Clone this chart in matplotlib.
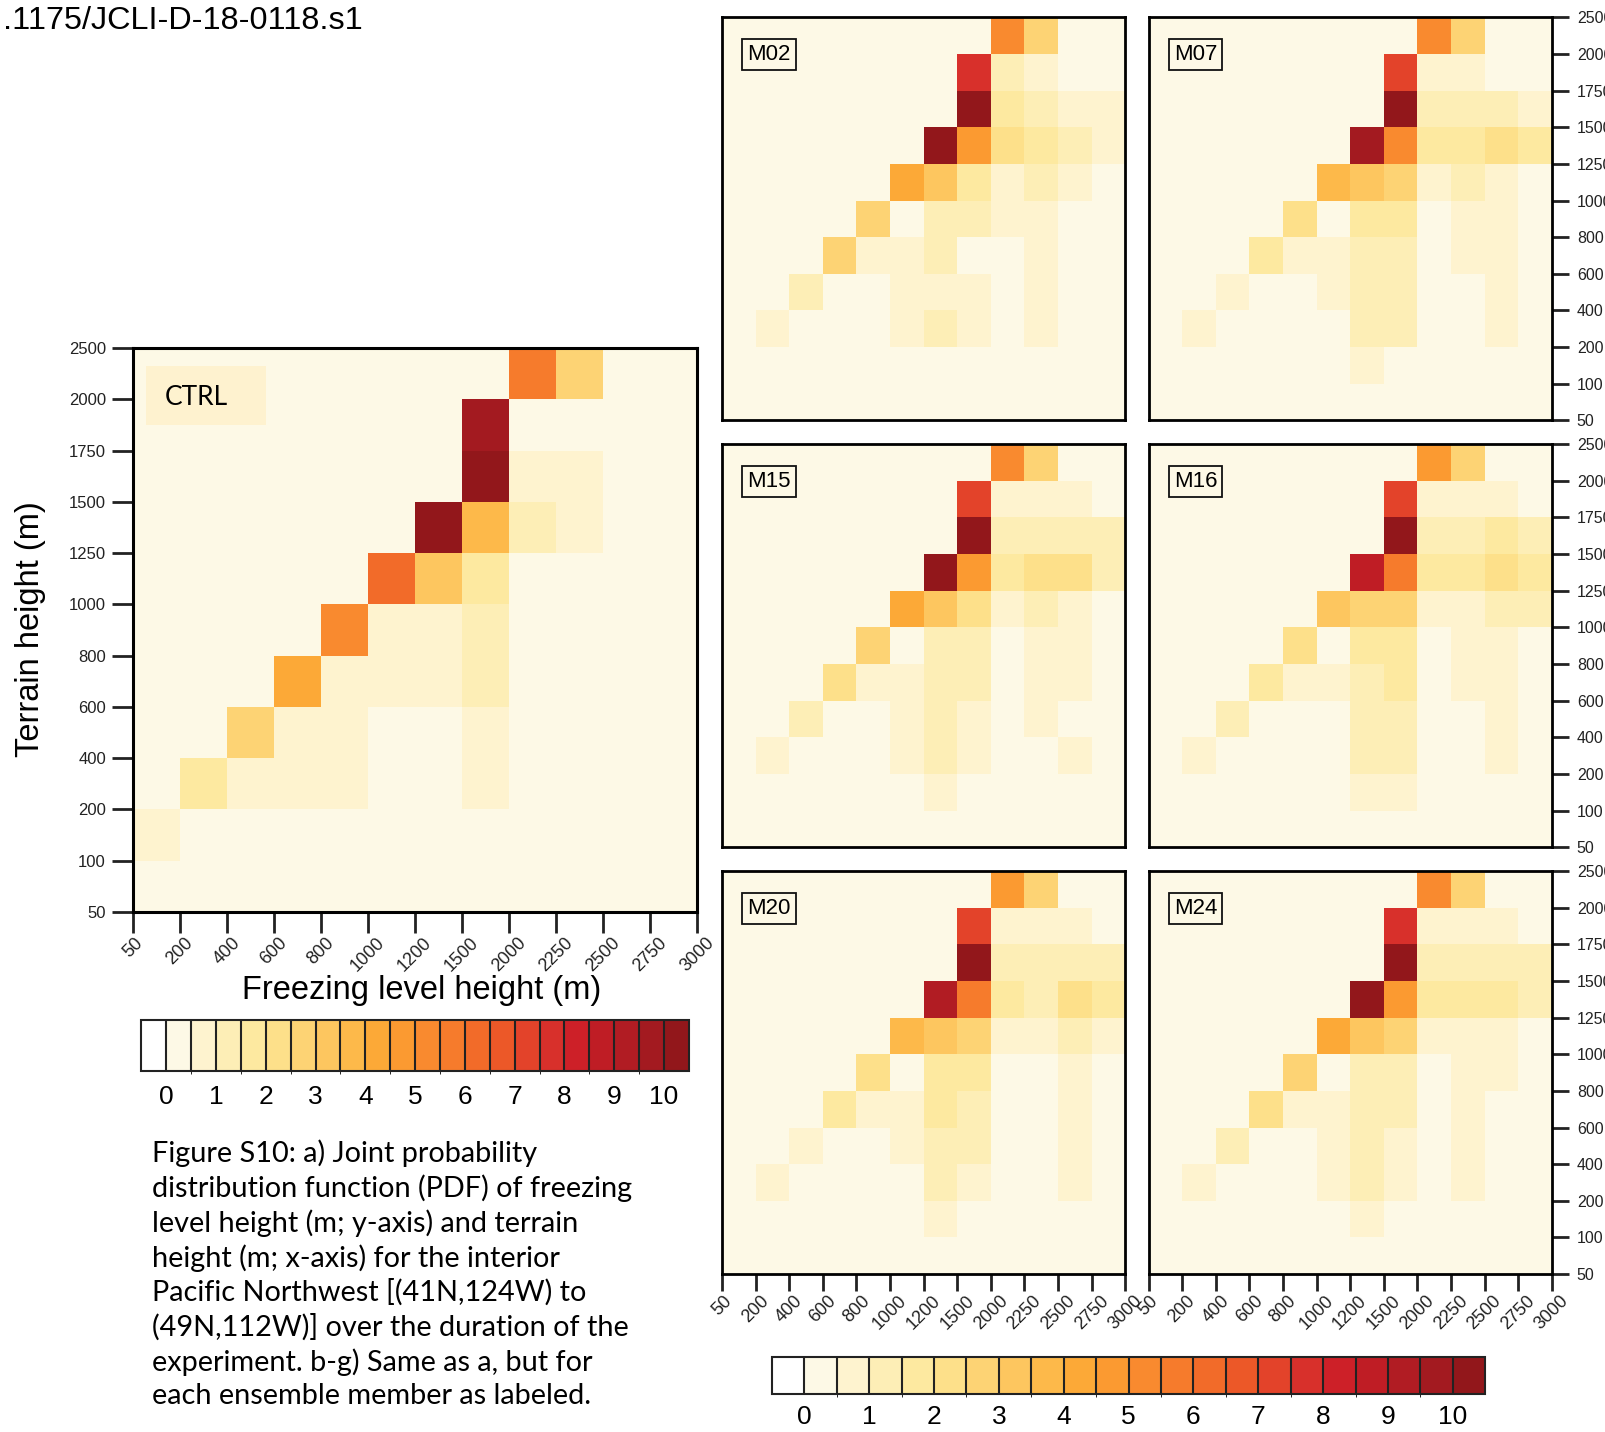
import numpy as np
import matplotlib
matplotlib.use('Agg')
import matplotlib.pyplot as plt
from matplotlib.colors import ListedColormap, BoundaryNorm
from matplotlib.patches import Rectangle

# ---------------- data ----------------
x_edges = ['50', '200', '400', '600', '800', '1000', '1200', '1500',
           '2000', '2250', '2500', '2750', '3000']
y_edges = ['50', '100', '200', '400', '600', '800', '1000', '1250',
           '1500', '1750', '2000', '2500']
levels = np.arange(0, 10.01, 0.5)
cbar_labels = [str(i) for i in range(11)]
colors = ['#ffffff', '#fdf9e6', '#fef3cf', '#fdeeb6', '#fde9a0', '#fde08a',
          '#fdd374', '#fdc65f', '#fdb94a', '#fca937', '#fb9a31', '#f98a2f',
          '#f67b2c', '#f26b29', '#ec5828', '#e3432a', '#d8302b', '#cd2028',
          '#bf1d25', '#b11c23', '#a31a20', '#92171b']

# rows listed from top (2000-2500 m) to bottom (50-100 m)
ctrl = [
    [.2, .2, .2, .2, .2, .2, .2, .2, 5.75, 2.75, .2, .2],
    [.2, .2, .2, .2, .2, .2, .2, 9.75, .2, .2, .2, .2],
    [.2, .2, .2, .2, .2, .2, .2, 10.5, .75, .75, .2, .2],
    [.2, .2, .2, .2, .2, .2, 10.5, 3.9, 1.1, .75, .2, .2],
    [.2, .2, .2, .2, .2, 6.25, 3.25, 1.75, .2, .2, .2, .2],
    [.2, .2, .2, .2, 5.25, .75, .75, 1.1, .2, .2, .2, .2],
    [.2, .2, .2, 4.25, .75, .75, .75, 1.1, .2, .2, .2, .2],
    [.2, .2, 2.75, .75, .75, .2, .2, .75, .2, .2, .2, .2],
    [.2, 1.6, .75, .75, .75, .2, .2, .75, .2, .2, .2, .2],
    [.75, .2, .2, .2, .2, .2, .2, .2, .2, .2, .2, .2],
    [.2, .2, .2, .2, .2, .2, .2, .2, .2, .2, .2, .2],
]
m02 = [
    [.2, .2, .2, .2, .2, .2, .2, .2, 5.25, 2.75, .2, .2],
    [.2, .2, .2, .2, .2, .2, .2, 7.75, 1.25, .75, .2, .2],
    [.2, .2, .2, .2, .2, .2, .2, 10.5, 1.6, 1.25, .75, .75],
    [.2, .2, .2, .2, .2, .2, 10.5, 4.75, 2.25, 1.75, 1.1, .75],
    [.2, .2, .2, .2, .2, 4.25, 3.25, 1.75, .75, 1.25, .75, .2],
    [.2, .2, .2, .2, 2.75, .2, 1.1, 1.1, .75, .75, .2, .2],
    [.2, .2, .2, 2.75, .75, .75, 1.1, .2, .2, .75, .2, .2],
    [.2, .2, 1.1, .2, .2, .75, .75, .75, .2, .75, .2, .2],
    [.2, .75, .2, .2, .2, .75, 1.1, .75, .2, .75, .2, .2],
    [.2, .2, .2, .2, .2, .2, .2, .2, .2, .2, .2, .2],
    [.2, .2, .2, .2, .2, .2, .2, .2, .2, .2, .2, .2],
]
m07 = [
    [.2, .2, .2, .2, .2, .2, .2, .2, 5.25, 2.75, .2, .2],
    [.2, .2, .2, .2, .2, .2, .2, 7.25, .75, .75, .2, .2],
    [.2, .2, .2, .2, .2, .2, .2, 10.5, 1.25, 1.25, 1.25, .9],
    [.2, .2, .2, .2, .2, .2, 9.75, 5.25, 1.6, 1.6, 2.25, 1.6],
    [.2, .2, .2, .2, .2, 3.75, 3.25, 2.6, .75, 1.25, .75, .2],
    [.2, .2, .2, .2, 2.25, .2, 1.6, 1.6, .2, .75, .75, .2],
    [.2, .2, .2, 1.6, .75, .75, 1.25, 1.25, .2, .75, .75, .2],
    [.2, .2, .75, .2, .2, .75, 1.25, 1.25, .2, .2, .75, .2],
    [.2, .75, .2, .2, .2, .2, 1.1, 1.1, .2, .2, .75, .2],
    [.2, .2, .2, .2, .2, .2, .75, .2, .2, .2, .2, .2],
    [.2, .2, .2, .2, .2, .2, .2, .2, .2, .2, .2, .2],
]
m15 = [
    [.2, .2, .2, .2, .2, .2, .2, .2, 5.25, 2.75, .2, .2],
    [.2, .2, .2, .2, .2, .2, .2, 7.25, .75, .75, .75, .2],
    [.2, .2, .2, .2, .2, .2, .2, 10.5, 1.25, 1.25, 1.25, 1.0],
    [.2, .2, .2, .2, .2, .2, 10.5, 4.75, 1.6, 2.25, 2.25, 1.0],
    [.2, .2, .2, .2, .2, 4.25, 3.25, 2.4, .75, 1.25, .75, .2],
    [.2, .2, .2, .2, 2.75, .2, 1.25, 1.25, .2, .75, .75, .2],
    [.2, .2, .2, 2.25, .75, .75, 1.25, 1.25, .2, .75, .75, .2],
    [.2, .2, 1.25, .2, .2, .75, 1.25, .75, .2, .75, .2, .2],
    [.2, .75, .2, .2, .2, .75, 1.25, .75, .2, .2, .75, .2],
    [.2, .2, .2, .2, .2, .2, .75, .2, .2, .2, .2, .2],
    [.2, .2, .2, .2, .2, .2, .2, .2, .2, .2, .2, .2],
]
m16 = [
    [.2, .2, .2, .2, .2, .2, .2, .2, 4.75, 2.75, .2, .2],
    [.2, .2, .2, .2, .2, .2, .2, 7.25, .75, .75, .75, .2],
    [.2, .2, .2, .2, .2, .2, .2, 10.5, 1.25, 1.25, 1.75, 1.0],
    [.2, .2, .2, .2, .2, .2, 8.6, 5.75, 1.75, 1.75, 2.25, 1.6],
    [.2, .2, .2, .2, .2, 3.25, 2.75, 2.75, .75, .75, 1.25, 1.0],
    [.2, .2, .2, .2, 2.25, .2, 1.6, 1.6, .2, .75, .75, .2],
    [.2, .2, .2, 1.6, .75, .75, 1.25, 1.6, .2, .75, .75, .2],
    [.2, .2, 1.0, .2, .2, .2, 1.25, 1.25, .2, .2, .75, .2],
    [.2, .75, .2, .2, .2, .2, 1.25, 1.25, .2, .2, .75, .2],
    [.2, .2, .2, .2, .2, .2, .75, .75, .2, .2, .2, .2],
    [.2, .2, .2, .2, .2, .2, .2, .2, .2, .2, .2, .2],
]
m20 = [
    [.2, .2, .2, .2, .2, .2, .2, .2, 4.75, 2.75, .2, .2],
    [.2, .2, .2, .2, .2, .2, .2, 7.25, .75, .75, .75, .2],
    [.2, .2, .2, .2, .2, .2, .2, 10.5, 1.25, 1.25, 1.25, 1.0],
    [.2, .2, .2, .2, .2, .2, 9.1, 5.75, 1.6, 1.25, 2.25, 1.6],
    [.2, .2, .2, .2, .2, 3.75, 3.25, 2.9, .75, .75, 1.25, .75],
    [.2, .2, .2, .2, 2.45, .2, 1.75, 1.75, .2, .2, .75, .2],
    [.2, .2, .2, 1.75, .75, .75, 1.75, 1.25, .2, .2, .75, .2],
    [.2, .2, .75, .2, .2, .75, 1.25, 1.25, .2, .2, .75, .2],
    [.2, .75, .2, .2, .2, .2, 1.25, .75, .2, .2, .75, .2],
    [.2, .2, .2, .2, .2, .2, .75, .2, .2, .2, .2, .2],
    [.2, .2, .2, .2, .2, .2, .2, .2, .2, .2, .2, .2],
]
m24 = [
    [.2, .2, .2, .2, .2, .2, .2, .2, 5.25, 2.75, .2, .2],
    [.2, .2, .2, .2, .2, .2, .2, 7.75, .75, .75, .75, .2],
    [.2, .2, .2, .2, .2, .2, .2, 10.5, 1.25, 1.25, 1.25, 1.0],
    [.2, .2, .2, .2, .2, .2, 10.5, 4.75, 1.75, 1.75, 1.75, 1.25],
    [.2, .2, .2, .2, .2, 4.25, 3.25, 2.5, .75, .75, .75, .2],
    [.2, .2, .2, .2, 2.75, .2, 1.25, 1.25, .2, .75, .75, .2],
    [.2, .2, .2, 2.25, .75, .75, 1.25, 1.25, .2, .75, .2, .2],
    [.2, .2, 1.25, .2, .2, .75, 1.25, .75, .2, .75, .2, .2],
    [.2, .75, .2, .2, .2, .75, 1.25, .75, .2, .75, .2, .2],
    [.2, .2, .2, .2, .2, .2, .75, .2, .2, .2, .2, .2],
    [.2, .2, .2, .2, .2, .2, .2, .2, .2, .2, .2, .2],
]
member_names = ['M02', 'M07', 'M15', 'M16', 'M20', 'M24']
member_data = [m02, m07, m15, m16, m20, m24]

caption = [
    'Figure S10: a) Joint probability',
    'distribution function (PDF) of freezing',
    'level height (m; y-axis) and terrain',
    'height (m; x-axis) for the interior',
    'Pacific Northwest [(41N,124W) to',
    '(49N,112W)] over the duration of the',
    'experiment. b-g) Same as a, but for',
    'each ensemble member as labeled.',
]

# ---------------- style ----------------
SANS = ['Liberation Sans', 'DejaVu Sans']
plt.rcParams['font.family'] = SANS
W, H = 1605, 1432
fig = plt.figure(figsize=(W / 100, H / 100), dpi=100)

cmap = ListedColormap(colors[1:-1])
cmap.set_under(colors[0])
cmap.set_over(colors[-1])
norm = BoundaryNorm(levels, cmap.N)

xe = np.arange(len(x_edges))
ye = np.arange(len(y_edges))


def fr(x0, y0, x1, y1):
    return [x0 / W, 1 - y1 / H, (x1 - x0) / W, (y1 - y0) / H]


def draw(ax, data):
    ax.pcolormesh(xe, ye, np.flipud(np.array(data)), cmap=cmap, norm=norm,
                  shading='flat', antialiased=False)
    ax.set_xlim(0, len(x_edges) - 1)
    ax.set_ylim(0, len(y_edges) - 1)


# ---- CTRL panel ----
ax = fig.add_axes(fr(133, 348, 697, 912))
draw(ax, ctrl)
for s in ax.spines.values():
    s.set_linewidth(2.2)
ax.set_xticks(xe)
ax.set_xticklabels(x_edges, rotation=45, ha='center', va='top')
ax.set_yticks(ye)
ax.set_yticklabels(y_edges)
ax.tick_params(axis='both', direction='out', length=15, width=2,
               colors='#222222')
ax.tick_params(axis='x', pad=1, labelsize=13)
ax.tick_params(axis='y', pad=4.5, labelsize=12)
ax.add_patch(Rectangle((0.023, 0.8635), 0.213, 0.1045, transform=ax.transAxes,
                       facecolor='#fef2cf', edgecolor='none', zorder=3))
ax.text(0.0567, 0.913, 'CTRL', transform=ax.transAxes, ha='left', va='center',
        fontsize=19, family=['Lato', 'DejaVu Sans'], zorder=4)

fig.text(31 / W, 1 - 629 / H, 'Terrain height (m)', rotation=90,
         ha='center', va='center', fontsize=23.5)
fig.text(422 / W, 1 - 990 / H, 'Freezing level height (m)',
         ha='center', va='center', fontsize=23.5)

# ---- member panels ----
lefts = [722, 1148.5]
tops = [17.4, 444.2, 871.1]
size_w, size_h = 403.3, 403.0
for i, (name, data) in enumerate(zip(member_names, member_data)):
    r, c = divmod(i, 2)
    x0, y0 = lefts[c], tops[r]
    a = fig.add_axes(fr(x0, y0, x0 + size_w, y0 + size_h))
    draw(a, data)
    for s in a.spines.values():
        s.set_linewidth(2.0)
    if r == 2:
        a.set_xticks(xe)
        a.set_xticklabels(x_edges, rotation=45, ha='center', va='top')
        a.tick_params(axis='x', direction='out', length=12, width=2,
                      labelsize=13, pad=1, colors='#222222')
    else:
        a.set_xticks([])
    if c == 1:
        a.yaxis.tick_right()
        a.set_yticks(ye)
        a.set_yticklabels(y_edges)
        a.tick_params(axis='y', direction='out', length=12, width=2,
                      labelsize=11.5, pad=6, colors='#222222')
    else:
        a.set_yticks([])
    a.text(0.1166, 0.908, name, transform=a.transAxes, ha='center',
           va='center', fontsize=16, zorder=4,
           bbox=dict(boxstyle='square,pad=0.22', facecolor='none',
                     edgecolor='#111111', linewidth=1.3))


# ---- colorbars (cax spans the full bar incl. the end boxes) ----
def colorbar(rect, fs, pad):
    cax = fig.add_axes(rect)
    sm = matplotlib.cm.ScalarMappable(norm=norm, cmap=cmap)
    cb = fig.colorbar(sm, cax=cax, orientation='horizontal', extend='both',
                      extendrect=True, extendfrac='auto', drawedges=True,
                      ticks=range(11))
    cb.set_ticklabels(cbar_labels)
    cb.outline.set_linewidth(1.5)
    cb.outline.set_edgecolor('#222222')
    cb.dividers.set_linewidth(1.5)
    cb.dividers.set_color('#222222')
    cax.tick_params(length=0, labelsize=fs, pad=pad)
    return cb


colorbar(fr(141.3, 1020, 688.9, 1070.5), 19, 10.5)
colorbar(fr(771.8, 1357.3, 1485.3, 1394.2), 19, 8)

# ---- texts ----
fig.text(3 / W, 1 - 21 / H, '.1175/JCLI-D-18-0118.s1', ha='left',
         va='center', fontsize=23.3)
for k, line in enumerate(caption):
    fig.text(151.5 / W, 1 - (1153.6 + 34.7 * k) / H, line, ha='left',
             va='center', fontsize=20.8, family=['Lato', 'DejaVu Sans'])

fig.savefig('out.png', dpi=100)
